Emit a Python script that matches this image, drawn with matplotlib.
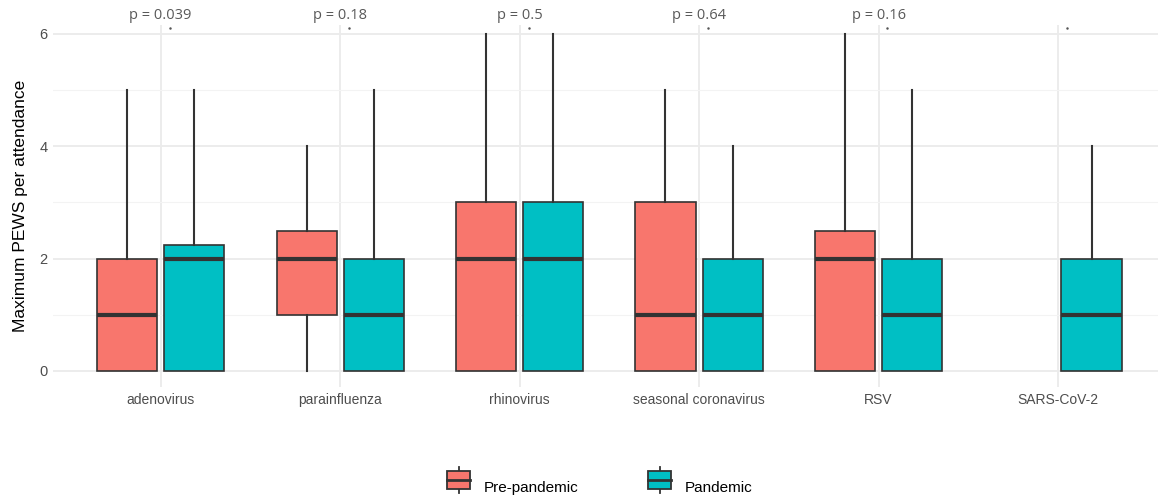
import matplotlib.pyplot as plt
import matplotlib.patches as mpatches
import matplotlib.lines as mlines
from matplotlib.legend_handler import HandlerBase

# ── Data ──────────────────────────────────────────────────────────────────────
VIRUSES = ['adenovirus', 'parainfluenza', 'rhinovirus',
           'seasonal coronavirus', 'RSV', 'SARS-CoV-2']
P_LABELS = ['p = 0.039', 'p = 0.18', 'p = 0.5', 'p = 0.64', 'p = 0.16', '']

# five-number summaries: whislo, q1, med, q3, whishi  (None = no data)
PRE_LO  = [0, 0, 0, 0, 0, None]
PRE_Q1  = [0, 1, 0, 0, 0, None]
PRE_MED = [1, 2, 2, 1, 2, None]
PRE_Q3  = [2, 2.5, 3, 3, 2.5, None]
PRE_HI  = [5, 4, 6, 5, 6, None]

PAN_LO  = [0, 0, 0, 0, 0, 0]
PAN_Q1  = [0, 0, 0, 0, 0, 0]
PAN_MED = [2, 1, 2, 1, 1, 1]
PAN_Q3  = [2.25, 2, 3, 2, 2, 2]
PAN_HI  = [5, 5, 6, 4, 5, 4]

GROUPS = ['Pre-pandemic', 'Pandemic']
COLORS = {'Pre-pandemic': '#F8766D', 'Pandemic': '#00BFC4'}
EDGE = '#333333'
GRID = '#EBEBEB'

plt.rcParams['font.family'] = ['Liberation Sans', 'DejaVu Sans']

# ── Figure ────────────────────────────────────────────────────────────────────
fig = plt.figure(figsize=(11.58, 5.0), dpi=100)
ax = fig.add_axes([53 / 1158, 113 / 500, 1 - 53 / 1158, 362 / 500])
ax.set_facecolor('white')

x = list(range(1, len(VIRUSES) + 1))
offset = 0.187
width = 0.335

def stats(lo, q1, med, q3, hi):
    out = []
    for a, b, c, d, e in zip(lo, q1, med, q3, hi):
        if a is None:
            continue
        out.append(dict(whislo=a, q1=b, med=c, q3=d, whishi=e, fliers=[]))
    return out

def draw(st, positions, color):
    ax.bxp(st, positions=positions, widths=width, patch_artist=True,
           showcaps=False, manage_ticks=False,
           boxprops=dict(facecolor=color, edgecolor=EDGE, linewidth=1.2),
           whiskerprops=dict(color=EDGE, linewidth=1.5),
           medianprops=dict(color=EDGE, linewidth=3, solid_capstyle='butt'),
           zorder=3)

pre_pos = [xi - offset for xi, v in zip(x, PRE_MED) if v is not None]
pan_pos = [xi + offset for xi in x]
draw(stats(PRE_LO, PRE_Q1, PRE_MED, PRE_Q3, PRE_HI), pre_pos, COLORS['Pre-pandemic'])
draw(stats(PAN_LO, PAN_Q1, PAN_MED, PAN_Q3, PAN_HI), pan_pos, COLORS['Pandemic'])

# ── Axes styling (ggplot theme_minimal look) ─────────────────────────────────
ax.set_xlim(0.4, 1 + (1158 - 161) / 179.4)
ax.set_ylim(-0.285, 6.16)
ax.set_xticks(x)
ax.set_xticklabels(VIRUSES, fontsize=10, color='#4D4D4D')
ax.set_yticks([0, 2, 4, 6])
ax.set_yticklabels(['0', '2', '4', '6'], fontsize=10.5, color='#4D4D4D')
ax.set_yticks([1, 3, 5], minor=True)
ax.tick_params(axis='both', which='both', length=0, pad=4)
ax.grid(True, which='major', color=GRID, linewidth=1.3, zorder=0)
ax.grid(True, which='minor', axis='y', color='#F3F3F3', linewidth=0.8, zorder=0)
ax.set_axisbelow(True)
for s in ax.spines.values():
    s.set_visible(False)
ax.set_ylabel('Maximum PEWS per attendance', fontsize=12.5, color='black', labelpad=8)

for xi, lab in zip(x, P_LABELS):
    ax.text(xi, 6.33, lab, ha='center', va='center', fontsize=10.5,
            color='#595959', family=['Open Sans', 'DejaVu Sans'], clip_on=False)
# the stray dots under each label
ax.scatter([xi + 0.05 for xi in x], [6.11] * len(x), s=0.6, color='#555555',
           clip_on=False, zorder=4)

# ── Legend with box-glyph keys ────────────────────────────────────────────────
class BoxKey(HandlerBase):
    def create_artists(self, legend, orig, xd, yd, w, h, fontsize, trans):
        box = mpatches.Rectangle((xd, yd), w, h,
                                 facecolor=orig.get_facecolor(), edgecolor=EDGE,
                                 linewidth=1.3, transform=trans)
        cx = xd + w / 2
        med = mlines.Line2D([xd, xd + w], [yd + h / 2] * 2,
                            color=EDGE, linewidth=2, transform=trans)
        top = mlines.Line2D([cx, cx], [yd + h, yd + 1.25 * h],
                            color=EDGE, linewidth=1.3, transform=trans)
        bot = mlines.Line2D([cx, cx], [yd - 0.25 * h, yd],
                            color=EDGE, linewidth=1.3, transform=trans)
        return [top, bot, box, med]

handles = [mpatches.Patch(facecolor=COLORS[g], label=g) for g in GROUPS]
fig.legend(handles=handles, labels=GROUPS, loc='center',
           bbox_to_anchor=(0.518, 0.026), ncol=2, frameon=False, fontsize=11,
           handler_map={mpatches.Patch: BoxKey()}, handlelength=1.55,
           handleheight=1.35, columnspacing=4.5, handletextpad=0.9,
           borderpad=0.2)

plt.savefig('out.png', dpi=100, facecolor='white')
